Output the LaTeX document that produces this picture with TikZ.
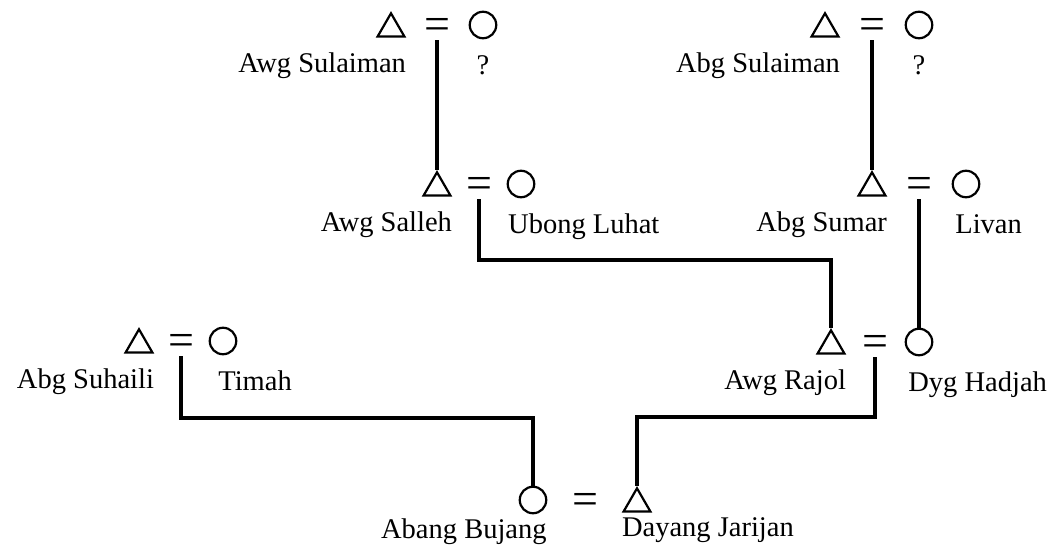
\documentclass[tikz,border=0pt]{standalone}
\usepackage{fontspec}
\setmainfont{Liberation Serif}
\usetikzlibrary{positioning, shapes.geometric}

\tikzset{
  male/.style={regular polygon, regular polygon sides=3, draw, line width=1.1pt,
    minimum size=15.5pt, inner sep=0pt, yshift=-1.9pt},
  female/.style={circle, draw, line width=1.1pt, minimum size=13.25pt, inner sep=0pt},
  wed/.style={inner sep=0pt, minimum height=15pt, text height=14.5pt, text depth=0pt,
    font=\fontsize{23}{23}\selectfont},
  who/.style={inner sep=0pt, font=\fontsize{14.25}{17}\selectfont},
  descent/.style={line width=1.6pt}
}

\begin{document}
\begin{tikzpicture}[x=0.5pt, y=-0.5pt, on grid]
  \useasboundingbox (0,0) rectangle (1061,551);

  % grandparents
  \node[wed] (m1) at (437,25) {=};
  \node[male] (awgsul) [left=23pt of m1] {};
  \node[female] (w1) [right=23pt of m1] {};
  \node[wed] (m2) at (872,25) {=};
  \node[male] (abgsul) [left=23.5pt of m2] {};
  \node[female] (w2) [right=23.5pt of m2] {};

  % parents of the groom's father and of the bride
  \node[wed] (m3) at (479,184) {=};
  \node[male] (salleh) [left=21pt of m3] {};
  \node[female] (luhat) [right=21pt of m3] {};
  \node[wed] (m4) at (919,184) {=};
  \node[male] (sumar) [left=23.5pt of m4] {};
  \node[female] (livan) [right=23.5pt of m4] {};

  \node[wed] (m5) at (181,341) {=};
  \node[male] (suhaili) [left=21pt of m5] {};
  \node[female] (timah) [right=21pt of m5] {};
  \node[wed] (m6) at (875,342) {=};
  \node[male] (rajol) [left=22pt of m6] {};
  \node[female] (hadjah) [right=22pt of m6] {};

  % the couple
  \node[wed] (m7) at (585,500) {=};
  \node[female] (bujang) [left=26pt of m7] {};
  \node[male] (jarijan) [right=26pt of m7] {};

  % names
  \node[who, anchor=base east, yshift=-17.5pt] (awgsul-l) at (awgsul.corner 3) {Awg Sulaiman};
  \node[who, anchor=base, yshift=-17.5pt] (w1-l) at (w1.south) {?};
  \node[who, anchor=base east, yshift=-17.5pt] (abgsul-l) at (abgsul.corner 3) {Abg Sulaiman};
  \node[who, anchor=base, yshift=-17.5pt] (w2-l) at (w2.south) {?};
  \node[who, anchor=base east, yshift=-17.5pt] (salleh-l) at (salleh.corner 3) {Awg Salleh};
  \node[who, anchor=base west, xshift=-6.6pt, yshift=-17.5pt] (luhat-l) at (luhat.south) {Ubong Luhat};
  \node[who, anchor=base east, yshift=-17.5pt] (sumar-l) at (sumar.corner 3) {Abg Sumar};
  \node[who, anchor=base west, xshift=-5.5pt, yshift=-17.5pt] (livan-l) at (livan.south) {Livan};
  \node[who, anchor=base east, yshift=-17.5pt] (suhaili-l) at (suhaili.corner 3) {Abg Suhaili};
  \node[who, anchor=base west, xshift=-2.5pt, yshift=-17.5pt] (timah-l) at (timah.south) {Timah};
  \node[who, anchor=base east, yshift=-17.5pt] (rajol-l) at (rajol.corner 3) {Awg Rajol};
  \node[who, anchor=base west, xshift=-5.5pt, yshift=-17.5pt] (hadjah-l) at (hadjah.south) {Dyg Hadjah};
  \node[who, anchor=base east, xshift=7pt, yshift=-12pt] (bujang-l) at (bujang.south) {Abang Bujang};
  \node[who, anchor=base west, yshift=-12pt] (jarijan-l) at (jarijan.corner 2) {Dayang Jarijan};

  % lines of descent
  \coordinate (bus1) at (831,260);
  \coordinate (bus2) at (533,418);
  \coordinate (bus3) at (637,417);
  \draw[descent] (m1.south) -- (salleh.corner 1);
  \draw[descent] (m2.south) -- (sumar.corner 1);
  \draw[descent] (m3.south) |- (bus1) -- (rajol.corner 1);
  \draw[descent] (m4.south) -- (hadjah.north);
  \draw[descent] (m5.south) |- (bus2) -- (bujang.north);
  \draw[descent] (m6.south) |- (bus3) -- (jarijan.corner 1);
\end{tikzpicture}
\end{document}
